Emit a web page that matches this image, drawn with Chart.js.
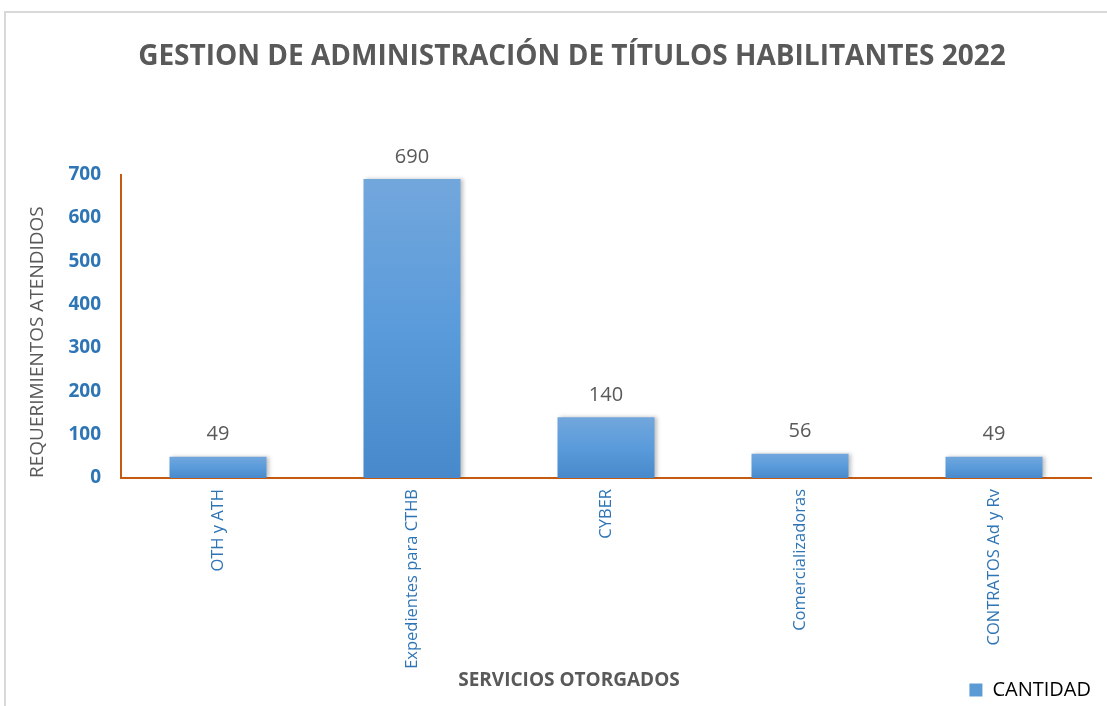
<!DOCTYPE html>
<html>
<head>
<meta charset="utf-8">
<script src="https://cdn.jsdelivr.net/npm/chart.js@4"></script>
<style>
  html, body { margin: 0; padding: 0; background: #fff; overflow: hidden; }
  #frame { position: absolute; left: 4px; top: 11px; width: 1120px; height: 720px; border: 2px solid #d9d9d9; }
  #wrap { position: absolute; left: 0; top: 0; width: 1107px; height: 706px; }
</style>
</head>
<body>
<div id="frame"></div>
<div id="wrap"><canvas id="myChart"></canvas></div>
<script>
// data
const categories = ['OTH y ATH', 'Expedientes para CTHB', 'CYBER', 'Comercializadoras', 'CONTRATOS Ad y Rv'];
const cantidad = [49, 690, 140, 56, 49];
const yTicks = [0, 100, 200, 300, 400, 500, 600, 700];

const blueTick = '#2E75B6';
const grayText = '#595959';
const axisOrange = '#C55A11';

// gradient per bar, lighter on top
function barFill(ctx) {
  const chart = ctx.chart;
  const area = chart.chartArea;
  if (!area || ctx.type !== 'data') return '#5B9BD5';
  const y = chart.scales.y;
  const top = y.getPixelForValue(ctx.raw);
  const base = y.getPixelForValue(0);
  const g = chart.ctx.createLinearGradient(0, top, 0, base);
  g.addColorStop(0, '#72A7DC');
  g.addColorStop(0.5, '#5A9BDB');
  g.addColorStop(1, '#4789CA');
  return g;
}

// value labels above bars
const valueLabels = {
  id: 'valueLabels',
  afterDatasetsDraw(chart) {
    const ctx = chart.ctx;
    const meta = chart.getDatasetMeta(0);
    ctx.save();
    ctx.font = '20px "Open Sans"';
    ctx.fillStyle = grayText;
    ctx.textAlign = 'center';
    ctx.textBaseline = 'middle';
    meta.data.forEach((bar, i) => {
      ctx.fillText(String(cantidad[i]), bar.x, bar.y - 22);
    });
    ctx.restore();
  }
};

// light shadow right of bars
const barShadow = {
  id: 'barShadow',
  beforeDatasetsDraw(chart) {
    const ctx = chart.ctx;
    ctx.save();
    ctx.shadowColor = 'rgba(0,0,0,0.25)';
    ctx.shadowBlur = 4;
    ctx.shadowOffsetX = 2;
    ctx.shadowOffsetY = 0;
  },
  afterDatasetsDraw(chart) {
    chart.ctx.restore();
  }
};

const data = {
  labels: categories,
  datasets: [{
    label: 'CANTIDAD',
    data: cantidad,
    backgroundColor: barFill,
    borderWidth: 0,
    categoryPercentage: 1,
    barPercentage: 0.5
  }]
};

const config = {
  type: 'bar',
  data: data,
  options: {
    responsive: false,
    animation: false,
    devicePixelRatio: 1,
    layout: { padding: { left: 53, right: 16, top: 0, bottom: -4 } },
    plugins: {
      title: {
        display: true,
        text: 'GESTION DE ADMINISTRACIÓN DE TÍTULOS HABILITANTES 2022',
        color: grayText,
        font: { family: 'Open Sans', size: 28, weight: 'bold', lineHeight: 1.2 },
        padding: { top: 40, bottom: 101 }
      },
      legend: {
        display: true,
        position: 'bottom',
        align: 'end',
        labels: {
          color: grayText,
          font: { family: 'Open Sans', size: 20 },
          boxWidth: 13,
          boxHeight: 13,
          padding: 0,
          generateLabels: () => [{
            text: 'CANTIDAD', fillStyle: '#5B9BD5', strokeStyle: '#5B9BD5', lineWidth: 0, hidden: false, datasetIndex: 0
          }]
        }
      },
      tooltip: { enabled: false }
    },
    scales: {
      x: {
        grid: { display: false, drawTicks: false },
        border: { display: true, color: axisOrange, width: 2 },
        ticks: {
          color: '#2E75B6',
          font: { family: 'Open Sans', size: 16.5 },
          minRotation: 90,
          maxRotation: 90,
          padding: 11
        },
        title: {
          display: true,
          // trailing spaces shift the centred title left, as in the original
          text: 'SERVICIOS OTORGADOS' + '\u00A0'.repeat(15),
          color: grayText,
          font: { family: 'Open Sans', size: 19, weight: 'bold', lineHeight: 1.2 },
          padding: { top: 0, bottom: -12 }
        },
        afterFit: (scale) => { scale.height = 202; }
      },
      y: {
        min: 0,
        max: 700,
        grid: { display: false, drawTicks: false },
        border: { display: true, color: axisOrange, width: 2 },
        afterBuildTicks: (scale) => { scale.ticks = yTicks.map(v => ({ value: v })); },
        ticks: {
          color: blueTick,
          font: { family: 'Open Sans', size: 19, weight: 'bold' },
          padding: 20
        },
        title: {
          display: true,
          text: 'REQUERIMIENTOS ATENDIDOS',
          color: grayText,
          align: 'start',
          font: { family: 'Open Sans', size: 19, lineHeight: 1.2 },
          padding: { top: -27, bottom: 0 }
        },
        afterFit: (scale) => { scale.width = 68; }
      }
    }
  },
  plugins: [barShadow, valueLabels]
};

const canvas = document.getElementById('myChart');
canvas.width = 1107;
canvas.height = 706;
const myChart = new Chart(canvas, config);
</script>
</body>
</html>
